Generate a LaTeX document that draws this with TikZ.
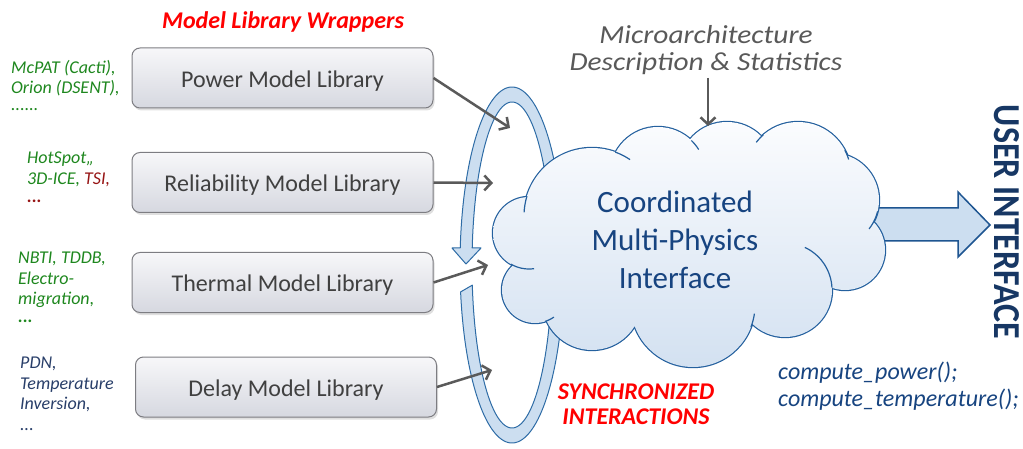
\documentclass[tikz,border=0pt]{standalone}
\usepackage{fontspec}
\setmainfont{Carlito}
\usetikzlibrary{arrows.meta,shadows}
\definecolor{boxborder}{RGB}{125,125,130}
\definecolor{boxtop}{RGB}{247,247,249}
\definecolor{boxbot}{RGB}{214,216,224}
\definecolor{labelgray}{RGB}{64,64,64}
\definecolor{arrowgray}{RGB}{90,90,90}
\definecolor{ringfill}{RGB}{204,222,240}
\definecolor{ringborder}{RGB}{46,108,166}
\definecolor{cloudtopc}{RGB}{251,252,254}
\definecolor{cloudbotc}{RGB}{211,225,241}
\definecolor{cloudborder}{RGB}{36,96,158}
\definecolor{navy}{RGB}{23,68,128}
\definecolor{libgreen}{RGB}{30,135,30}
\definecolor{libred}{RGB}{150,20,20}
\definecolor{libblue}{RGB}{40,62,105}
\definecolor{redtxt}{RGB}{255,0,0}
\definecolor{uiblue}{RGB}{23,55,100}
\definecolor{descgray}{RGB}{89,89,89}
\definecolor{bigarrowborder}{RGB}{30,85,145}
\begin{document}
\begin{tikzpicture}[x=1pt,y=-1pt,
  libbox/.style={draw=boxborder, line width=1pt, rounded corners=8pt,
    top color=boxtop, bottom color=boxbot, minimum width=301pt, minimum height=60pt,
    text height=18.6pt, text depth=0pt,
    font=\fontsize{24}{28}\selectfont, text=labelgray,
    drop shadow={shadow xshift=1.5pt, shadow yshift=-2.5pt, opacity=0.25}},
  feed/.style={draw=arrowgray, line width=2.5pt, -{Straight Barb[length=7pt,width=15pt]}},
  listtxt/.style={anchor=north west, inner sep=0pt, align=left,
    font=\fontsize{18}{20.5}\selectfont\itshape},
  redhead/.style={text=redtxt, font=\fontsize{24}{25}\selectfont\bfseries\itshape, align=center, inner sep=0pt},
  tick/.style={cloudborder, line width=1.2pt}
]
\useasboundingbox (0,0) rectangle (1023,449);

% ring arrow (synchronized interactions)
\filldraw[fill=ringfill, draw=ringborder, line width=1pt, line join=round]
  plot[domain=171.3:-174.5, samples=150] ({512+52*cos(\x)},{265+178*sin(\x)})
  -- (452,248) -- (466,264) -- (481,248)
  -- plot[domain=-174:172.9, samples=150] ({512+40*cos(\x)},{265+163*sin(\x)})
  -- cycle;

% big output arrow
\filldraw[fill=ringfill, draw=bigarrowborder, line width=1.5pt, line join=miter]
  (870,208) -- (958,208) -- (958,192) -- (990,225) -- (958,257) -- (958,241) -- (870,241) -- cycle;

% cloud
\foreach \cx/\cy/\r in {529/233/36, 592/216/68, 658/175/48, 727/170/48, 798/175/53,
   832/200/47, 845/250/40, 785/290/47, 693/305/62, 592/300/50, 535/290/33}{
  \draw[cloudborder, line width=2.4pt] (\cx,\cy) circle[radius=\r pt];
}
\shade[top color=cloudtopc, bottom color=cloudbotc]
  (529,233) circle[radius=36pt] (592,216) circle[radius=68pt] (658,175) circle[radius=48pt]
  (727,170) circle[radius=48pt] (798,175) circle[radius=53pt] (832,200) circle[radius=47pt]
  (845,250) circle[radius=40pt] (785,290) circle[radius=47pt] (693,305) circle[radius=62pt]
  (592,300) circle[radius=50pt] (535,290) circle[radius=33pt]
  (690,240) ellipse[x radius=150pt, y radius=80pt];
% inner ticks of the cloud outline
\draw[tick] plot[domain=-163:-177, samples=8] ({592+68*cos(\x)},{216+68*sin(\x)});
\draw[tick] plot[domain=-70:-56, samples=12] ({592+68*cos(\x)},{216+68*sin(\x)});
\draw[tick] plot[domain=-46:-32, samples=8] ({658+48*cos(\x)},{175+48*sin(\x)});
\draw[tick] plot[domain=-131:-142, samples=8] ({798+53*cos(\x)},{175+53*sin(\x)});
\draw[tick] plot[domain=-28:-17, samples=8] ({798+53*cos(\x)},{175+53*sin(\x)});
\draw[tick] plot[domain=14:38, samples=10] ({832+47*cos(\x)},{200+47*sin(\x)});
\draw[tick] plot[domain=-65:-3, samples=30] ({785+47*cos(\x)},{290+47*sin(\x)});
\draw[tick] plot[domain=8:21, samples=8] ({693+62*cos(\x)},{305+62*sin(\x)});
\draw[tick] plot[domain=120:82, samples=10] ({529+36*cos(\x)},{233+36*sin(\x)});
\draw[tick] plot[domain=72:55, samples=8] ({535+33*cos(\x)},{290+33*sin(\x)});

\node[text=navy, align=center, inner sep=0pt, font=\fontsize{31}{38}\selectfont] (cloud) at (675,240)
  {Coordinated\\Multi-Physics\\Interface};

% library boxes
\node[libbox] (pw) at (282.5,78) {Power Model Library};
\node[libbox] (rl) at (282.5,182.5) {Reliability Model Library};
\node[libbox] (th) at (282.5,282.5) {Thermal Model Library};
\node[libbox] (dl) at (286,387) {Delay Model Library};

\coordinate (pwin) at (510,128);
\coordinate (rlin) at (493,183);
\coordinate (thin) at (488,265);
\coordinate (dlin) at (492,370);
\draw[feed] (pw.east) -- (pwin);
\draw[feed] (rl.east) -- (rlin);
\draw[feed] (th.east) -- (thin);
\draw[feed] (dl.east) -- (dlin);

% headings
\node[redhead] (wrap) at (283,22) {Model Library Wrappers};
\node[redhead] (sync) at (636,404) {SYNCHRONIZED\\INTERACTIONS};

\node[text=descgray, align=center, inner sep=0pt, font=\fontsize{26}{27}\selectfont\itshape] (desc) at (706,50)
  {\scalebox{1.13}[1]{Microarchitecture}\\\scalebox{1.13}[1]{Description \& Statistics}};
\coordinate (cloudtopin) at (708,126);
\draw[feed] (desc.south -| cloudtopin) ++(0,3) -- (cloudtopin);

% side lists
\node[listtxt, text=libgreen] (l1) at (11,60) {McPAT (Cacti),\\Orion (DSENT),\\[-4pt]......};
\node[listtxt, text=libgreen] (l2) at (27,152) {HotSpot,,\\3D-ICE, \textcolor{libred}{TSI,}\\[-2pt]\textcolor{libred}{\bfseries ...}};
\node[listtxt, text=libgreen] (l3) at (18,252) {NBTI, TDDB,\\Electro-\\migration,\\[-3pt]{\bfseries ...}};
\node[listtxt, text=libblue] (l4) at (20,357) {PDN,\\Temperature\\Inversion,\\...};

% user interface
\node[text=uiblue, rotate=-90, inner sep=0pt, font=\fontsize{34}{36}\selectfont\bfseries] (ui) at (1007,222)
  {\scalebox{1}[1.12]{USER INTERFACE}};
\node[text=navy, anchor=north west, align=left, inner sep=0pt, font=\fontsize{24}{27}\selectfont\itshape] (api) at (778,362)
  {compute\_power();\\compute\_temperature();};
\end{tikzpicture}
\end{document}
